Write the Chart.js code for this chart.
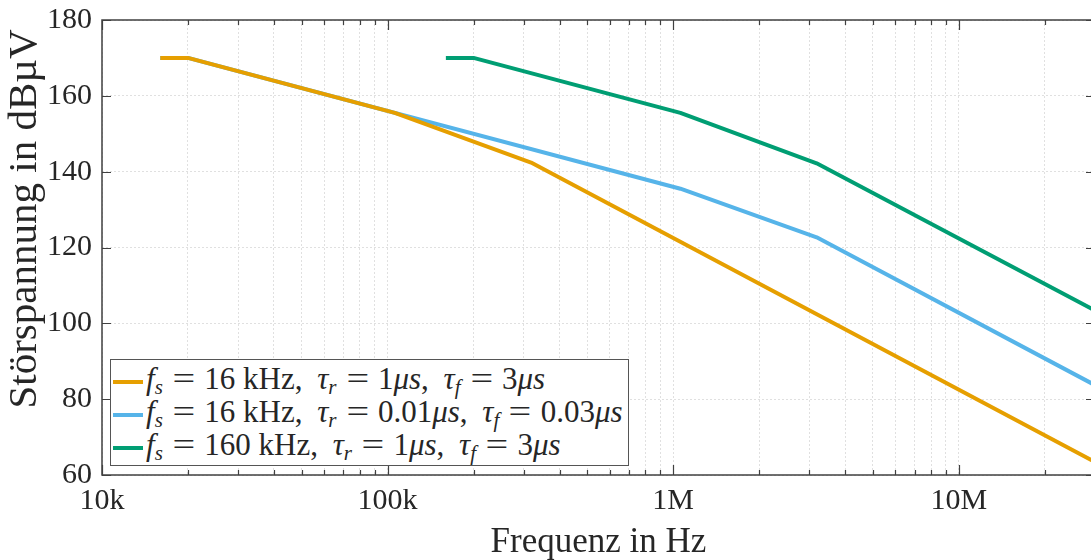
<!DOCTYPE html>
<html>
<head>
<meta charset="utf-8">
<script src="https://cdn.jsdelivr.net/npm/chart.js@4.4.1/dist/chart.umd.min.js"></script>
<style>
  html, body { margin: 0; padding: 0; background: #fff; overflow: hidden; }
  #wrap { position: relative; width: 1100px; height: 560px; }
  #legend {
    position: absolute; left: 110px; top: 359px; width: 519px; height: 107px;
    box-sizing: border-box; border: 1px solid #555; background: #fff;
    font-family: "Liberation Serif", serif; font-size: 31px; color: #262626;
    padding-top: 2px;
  }
  #legend .row { height: 33px; line-height: 33px; white-space: nowrap; }
  #legend .sw { display: inline-block; width: 30px; height: 4px; margin: 0 3px 0 2px; vertical-align: middle; }
  #legend i { font-style: italic; }
  #legend .eq { margin: 0 12px; display: inline-block; transform: scaleX(1.3); }
  #legend .sp { margin-left: 7px; }
  #legend sub { font-size: 21px; line-height: 0; vertical-align: -5px; }
</style>
</head>
<body>
<div id="wrap">
  <canvas id="chart" width="1100" height="560"></canvas>
  <div id="legend"></div>
</div>
<script>
// frequency in Hz, level in dBuV
const freqOrange = [16000, 20000, 106000, 318000, 30000000];
const levelOrange = [170, 170, 155.5, 142.4, 63.4];

const freqBlue = [16000, 20000, 1060000, 3180000, 30000000];
const levelBlue = [170, 170, 135.5, 122.7, 83.7];

const freqGreen = [160000, 200000, 1060000, 3180000, 30000000];
const levelGreen = [170, 170, 155.5, 142.2, 103.4];

// legend parts: switching freq, rise time, fall time
const labelFs = ["16", "16", "160"];
const labelTauR = ["1", "0.01", "1"];
const labelTauF = ["3", "0.03", "3"];

const colors = ["#E69F00", "#56B4E9", "#009E73"];

const xMajorValues = [1e4, 1e5, 1e6, 1e7];
const xMajorLabels = ["10k", "100k", "1M", "10M"];
const xMultipliers = [1, 2, 3, 4, 5, 6, 7, 8, 9];

const xTitle = "Frequenz in Hz";
const yTitle = "Störspannung in dBµV";

const toPoints = (xs, ys) => xs.map((x, i) => ({ x: x, y: ys[i] }));

const serif = "'Liberation Serif', 'Times New Roman', serif";
const axisColor = "#404040";

// box + inward ticks + axis titles (matlab look)
const frame = {
  id: "frame",
  afterDatasetsDraw(chart) {
    const ctx = chart.ctx;
    const a = chart.chartArea;
    const xs = chart.scales.x;
    const ys = chart.scales.y;
    ctx.save();
    ctx.strokeStyle = axisColor;
    ctx.lineWidth = 1.2;
    ctx.beginPath();
    xs.ticks.forEach((t) => {
      const px = Math.round(xs.getPixelForValue(t.value)) + 0.5;
      const len = xMajorValues.includes(t.value) ? 10 : 5;
      ctx.moveTo(px, a.bottom); ctx.lineTo(px, a.bottom - len);
      ctx.moveTo(px, a.top); ctx.lineTo(px, a.top + len);
    });
    ys.ticks.forEach((t) => {
      const py = Math.round(ys.getPixelForValue(t.value)) + 0.5;
      ctx.moveTo(a.left, py); ctx.lineTo(a.left + 9, py);
      ctx.moveTo(a.right, py); ctx.lineTo(a.right - 9, py);
    });
    ctx.stroke();
    ctx.lineWidth = 1.5;
    ctx.strokeRect(a.left, a.top, a.right - a.left, a.bottom - a.top);
    ctx.restore();
  },
  afterDraw(chart) {
    const ctx = chart.ctx;
    const a = chart.chartArea;
    ctx.save();
    ctx.fillStyle = "#262626";
    ctx.textAlign = "center";
    ctx.textBaseline = "middle";
    ctx.font = "35px " + serif;
    ctx.fillText(xTitle, (a.left + a.right) / 2, 543);
    ctx.translate(25, 219);
    ctx.rotate(-Math.PI / 2);
    ctx.font = "41px " + serif;
    ctx.fillText(yTitle, 0, 0);
    ctx.restore();
  }
};

const ctx = document.getElementById("chart").getContext("2d");
const chart = new Chart(ctx, {
  type: "line",
  data: {
    datasets: [
      { data: toPoints(freqOrange, levelOrange), borderColor: colors[0] },
      { data: toPoints(freqBlue, levelBlue), borderColor: colors[1] },
      { data: toPoints(freqGreen, levelGreen), borderColor: colors[2] },
    ],
  },
  options: {
    responsive: false,
    animation: false,
    devicePixelRatio: 1,
    layout: { padding: { top: 20, right: 5, left: 0, bottom: 0 } },
    elements: {
      line: { borderWidth: 4, tension: 0, fill: false, borderJoinStyle: "round" },
      point: { radius: 0 },
    },
    plugins: { legend: { display: false }, tooltip: { enabled: false } },
    scales: {
      x: {
        type: "logarithmic",
        min: 1e4,
        max: 3e7,
        afterBuildTicks: (scale) => {
          const ticks = [];
          xMajorValues.forEach((d) => {
            xMultipliers.forEach((m) => {
              if (m * d <= 3e7) ticks.push({ value: m * d });
            });
          });
          scale.ticks = ticks;
        },
        afterFit: (scale) => {
          scale.height = 85;
          scale.paddingLeft = 0;
          scale.paddingRight = 0;
        },
        ticks: {
          autoSkip: false,
          maxRotation: 0,
          padding: 8,
          color: "#262626",
          font: { family: serif, size: 30 },
          callback: (v) => {
            const i = xMajorValues.indexOf(v);
            return i >= 0 ? xMajorLabels[i] : "";
          },
        },
        grid: { color: "#e0e0e0", lineWidth: 1, drawTicks: false },
        border: { display: false, dash: [2, 2] },
      },
      y: {
        min: 60,
        max: 180,
        afterFit: (scale) => {
          scale.width = 102;
          scale.paddingTop = 0;
          scale.paddingBottom = 0;
        },
        ticks: {
          stepSize: 20,
          padding: 10,
          color: "#262626",
          font: { family: serif, size: 30 },
        },
        grid: { color: "#e0e0e0", lineWidth: 1, drawTicks: false },
        border: { display: false, dash: [2, 2] },
      },
    },
  },
  plugins: [frame],
});

// legend with sub-scripts
const legend = document.getElementById("legend");
labelFs.forEach((fs, i) => {
  const row = document.createElement("div");
  row.className = "row";
  row.innerHTML =
    '<span class="sw" style="background:' + colors[i] + '"></span>' +
    '<i>f</i><sub><i>s</i></sub><span class="eq">=</span>' + fs + " kHz, " +
    '<i class="sp">τ</i><sub><i>r</i></sub><span class="eq">=</span>' + labelTauR[i] + "<i>μs</i>, " +
    '<i class="sp">τ</i><sub><i>f</i></sub><span class="eq">=</span>' + labelTauF[i] + "<i>μs</i>";
  legend.appendChild(row);
});
</script>
</body>
</html>
